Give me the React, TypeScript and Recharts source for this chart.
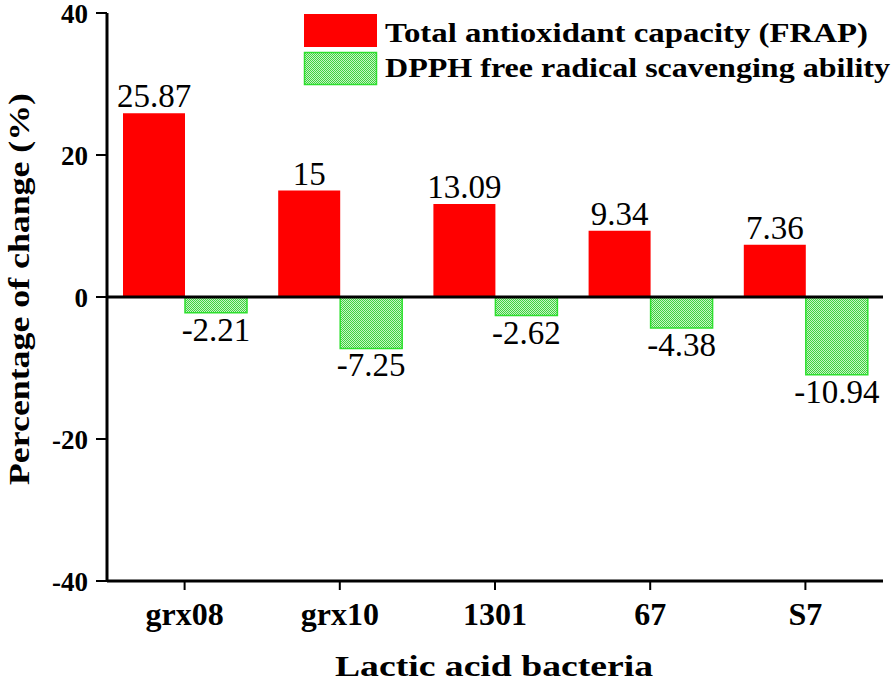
import { BarChart, Bar, XAxis, YAxis, ReferenceLine, LabelList } from 'recharts'

const categories = ['grx08', 'grx10', '1301', '67', 'S7']
const frapValues = [25.87, 15, 13.09, 9.34, 7.36]
const dpphValues = [-2.21, -7.25, -2.62, -4.38, -10.94]
const yTicks = [-40, -20, 0, 20, 40]

const FRAP_NAME = 'Total antioxidant capacity (FRAP)'
const DPPH_NAME = 'DPPH free radical scavenging ability'

const SERIF = "'Liberation Serif', Tinos, 'Times New Roman', Times, 'Nimbus Roman', serif"
const RED = '#ff0000'
const GREEN_EDGE = '#2ee02e'

const data = categories.map((name, i) => ({
  name,
  frap: frapValues[i],
  dpph: dpphValues[i],
}))

const txt = (size: number, bold = false) => ({
  fontFamily: SERIF,
  fontSize: size,
  fontWeight: bold ? 700 : 400,
  fill: '#000',
})

function GreenPattern({ id }: { id: string }) {
  return (
    <pattern id={id} width={2} height={2} patternUnits="userSpaceOnUse">
      <rect width={2} height={2} fill="#c6f5c6" />
      <rect x={0} y={0} width={1} height={1} fill="#3fd23f" />
      <rect x={1} y={1} width={1} height={1} fill="#3fd23f" />
    </pattern>
  )
}

function ValueLabel(props: any) {
  const { x, y, width, height, value } = props
  const top = Math.min(y, y + height)
  const bottom = Math.max(y, y + height)
  const ty = value >= 0 ? top - 6 : bottom + 28
  return (
    <text x={x + width / 2} y={ty} textAnchor="middle" style={txt(33)}>
      {String(value)}
    </text>
  )
}

function XTick(props: any) {
  const { x, y, payload } = props
  return (
    <text x={x} y={y + 33} textAnchor="middle" style={txt(32, true)}>
      {payload.value}
    </text>
  )
}

function YTick(props: any) {
  const { x, y, payload } = props
  return (
    <text x={x - 6} y={y + 10} textAnchor="end" style={txt(27, true)}>
      {payload.value}
    </text>
  )
}

function LegendBox() {
  return (
    <svg width={596} height={82} style={{ position: 'absolute', left: 300, top: 10 }}>
      <defs>
        <GreenPattern id="greenLegend" />
      </defs>
      <rect x={4} y={4} width={73} height={33} fill={RED} />
      <text x={85} y={32} style={txt(28, true)} textLength={483} lengthAdjust="spacingAndGlyphs">
        {FRAP_NAME}
      </text>
      <rect x={4.5} y={42.5} width={72} height={32} fill="url(#greenLegend)" stroke={GREEN_EDGE} strokeWidth={1.5} />
      <text x={85} y={67} style={txt(28, true)} textLength={505} lengthAdjust="spacingAndGlyphs">
        {DPPH_NAME}
      </text>
    </svg>
  )
}

export default function App() {
  return (
    <div style={{ position: 'absolute', left: 0, top: 0, width: 896, height: 681, background: '#fff' }}>
      <BarChart
        width={896}
        height={681}
        data={data}
        margin={{ top: 13, right: 13, left: 0, bottom: 40 }}
        barGap={0}
        barSize={62}
        style={{ overflow: 'visible' }}
      >
        <defs>
          <GreenPattern id="greenFill" />
        </defs>
        <XAxis
          dataKey="name"
          height={60}
          axisLine={{ stroke: '#000', strokeWidth: 3 }}
          tickLine={{ stroke: '#000', strokeWidth: 2 }}
          tickSize={9}
          tick={<XTick />}
          interval={0}
          label={{
            content: (p: any) => {
              const vb = p.viewBox
              return (
                <text
                  x={vb.x + vb.width / 2 - 1}
                  y={676}
                  textAnchor="middle"
                  style={txt(30, true)}
                  textLength={318}
                  lengthAdjust="spacingAndGlyphs"
                >
                  Lactic acid bacteria
                </text>
              )
            },
          }}
        />
        <YAxis
          width={107}
          domain={[-40, 40]}
          ticks={yTicks}
          interval={0}
          axisLine={{ stroke: '#000', strokeWidth: 3 }}
          tickLine={{ stroke: '#000', strokeWidth: 2 }}
          tickSize={11}
          tick={<YTick />}
          label={{
            content: () => (
              <text
                x={29}
                y={289}
                transform="rotate(-90, 29, 289)"
                textAnchor="middle"
                style={txt(30, true)}
                textLength={392}
                lengthAdjust="spacingAndGlyphs"
              >
                Percentage of change (%)
              </text>
            ),
          }}
        />
        <Bar dataKey="frap" name={FRAP_NAME} fill={RED} isAnimationActive={false}>
          <LabelList dataKey="frap" content={<ValueLabel />} />
        </Bar>
        <Bar dataKey="dpph" name={DPPH_NAME} fill="url(#greenFill)" stroke={GREEN_EDGE} strokeWidth={1.5} isAnimationActive={false}>
          <LabelList dataKey="dpph" content={<ValueLabel />} />
        </Bar>
        <ReferenceLine y={0} stroke="#000" strokeWidth={3} />
      </BarChart>
      <LegendBox />
    </div>
  )
}
